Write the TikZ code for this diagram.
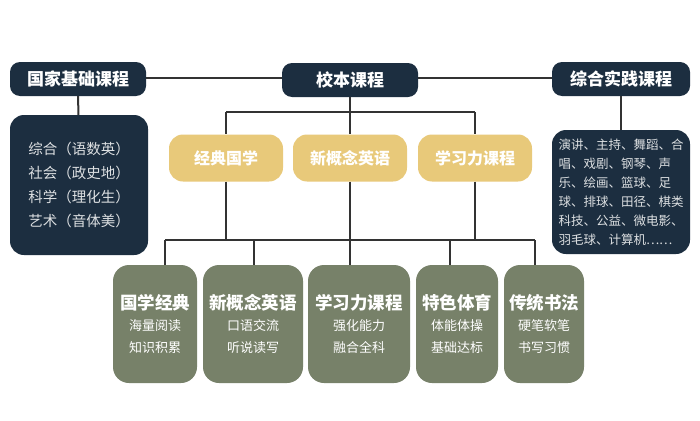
\documentclass[tikz,border=0pt]{standalone}
\usepackage{fontspec}
\setmainfont{Noto Sans CJK SC}
\usetikzlibrary{positioning}
\definecolor{navy}{HTML}{1C2E40}
\definecolor{gold}{HTML}{E8C97A}
\definecolor{sage}{HTML}{778169}
\tikzset{
  topbox/.style={fill=navy,rounded corners=10pt,text=white,font=\bfseries\fontsize{17}{20}\selectfont,minimum height=34pt,inner sep=0pt},
  infobox/.style={fill=navy,rounded corners=14pt,text=white!85!navy,align=left,inner sep=0pt},
  midbox/.style={fill=gold,rounded corners=14pt,text=white,font=\bfseries\fontsize{16}{19}\selectfont,minimum width=114pt,minimum height=47pt,inner sep=0pt},
  lowbox/.style={fill=sage,rounded corners=16pt,text=white,align=center,minimum height=118pt,inner sep=0pt,minimum width=#1,font=\fontsize{13}{22}\selectfont},
  link/.style={line width=2pt,draw=black!80}
}
\begin{document}
\begin{tikzpicture}[x=1pt,y=-1pt]
\useasboundingbox[fill=white] (0,0) rectangle (700,420);

% top row
\draw[link] (78,78) -- (620,78);
\node[topbox,minimum width=136pt] (state) at (78,79) {国家基础课程};
\node[topbox,minimum width=136pt] (school) at (350,80) {校本课程};
\node[topbox,minimum width=138pt] (practice) at (621,79) {综合实践课程};

% side boxes
\node[infobox,minimum width=138pt,minimum height=140pt,font=\fontsize{14.5}{24}\selectfont] (core) at (79,185)
  {综合（语数英）\\社会（政史地）\\科学（理化生）\\艺术（音体美）};
\node[infobox,minimum width=138pt,minimum height=124pt,font=\fontsize{12.5}{19}\selectfont] (acts) at (621,192)
  {演讲、主持、舞蹈、合\\唱、戏剧、钢琴、声\\乐、绘画、篮球、足\\球、排球、田径、棋类\\科技、公益、微电影、\\羽毛球、计算机……};
\draw[link] (state) -- (core);
\draw[link] (practice) -- (acts);

% school courses
\node[midbox] (classic) at (226,158) {经典国学};
\node[midbox] (english) at (350,158) {新概念英语};
\node[midbox] (learn) at (475,158) {学习力课程};
\coordinate (hub) at (350,112);
\draw[link] (school) -- (hub);
\draw[link] (classic.north |- hub) -- (learn.north |- hub);
\foreach \n in {classic,english,learn}
  \draw[link] (\n.north |- hub) -- (\n.north);

% lower courses
\coordinate (bus) at (350,240);
\draw[link] (classic.south) -- (classic.south |- bus);
\draw[link] (english.south) -- (english.south |- bus);
\draw[link] (learn.south) -- (learn.south |- bus);
\draw[link] (165,240) -- (535,240);
\newcommand\lowtext[3]{{\bfseries\fontsize{17.5}{22}\selectfont #1}\\[-1pt]#2\\#3}
\node[lowbox=84pt] (guoxue) at (155,324) {\lowtext{国学经典}{海量阅读}{知识积累}};
\node[lowbox=100pt] (xgn) at (253,324) {\lowtext{新概念英语}{口语交流}{听说读写}};
\node[lowbox=102pt] (xxl) at (359,324) {\lowtext{学习力课程}{强化能力}{融合全科}};
\node[lowbox=82pt] (tiyu) at (457,324) {\lowtext{特色体育}{体能体操}{基础达标}};
\node[lowbox=80pt] (shufa) at (544,324) {\lowtext{传统书法}{硬笔软笔}{书写习惯}};
\foreach \n/\x in {guoxue/165,xgn/254,xxl/350,tiyu/450,shufa/535}
  \draw[link] (\x,240) -- (\x,265);
\end{tikzpicture}
\end{document}
